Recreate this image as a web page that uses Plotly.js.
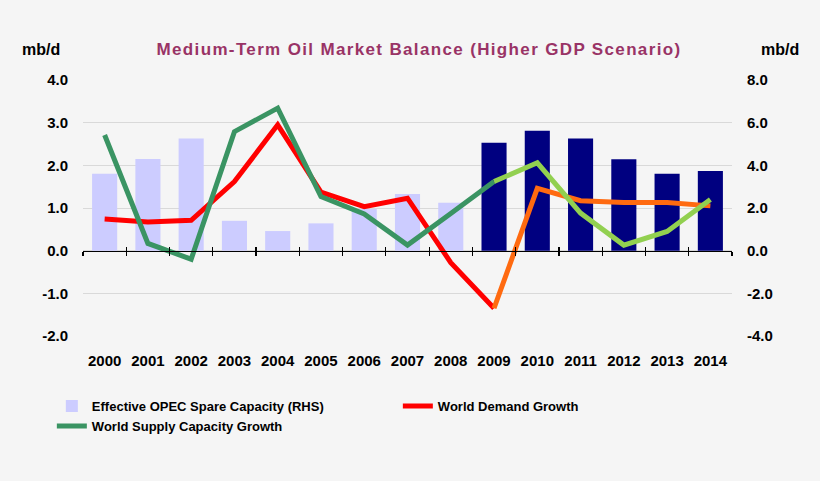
<!DOCTYPE html>
<html>
<head>
<meta charset="utf-8">
<script src="https://cdn.plot.ly/plotly-3.0.1.min.js"></script>
<style>
html,body{margin:0;padding:0;background:#f5f5f5;}
#chart{width:820px;height:481px;}
#chart .gtitle{letter-spacing:1.35px;}
</style>
</head>
<body>
<div id="chart"></div>
<script>
// ---- data ----
const years = ['2000','2001','2002','2003','2004','2005','2006','2007','2008','2009','2010','2011','2012','2013','2014'];
const spareCapacity = [3.6, 4.3, 5.26, 1.4, 0.92, 1.28, 1.95, 2.66, 2.25, 5.06, 5.62, 5.26, 4.28, 3.6, 3.73];
const demandGrowth = [0.74, 0.67, 0.71, 1.62, 2.95, 1.37, 1.03, 1.23, -0.28, -1.35, 1.46, 1.17, 1.13, 1.13, 1.05];
const supplyGrowth = [2.71, 0.17, -0.20, 2.79, 3.34, 1.27, 0.86, 0.13, 0.87, 1.62, 2.06, 0.88, 0.13, 0.45, 1.20];
const forecastStart = 9; // index of 2009
const leftTicks = [-2, -1, 0, 1, 2, 3, 4];
const leftTickLabels = ['-2.0', '-1.0', '0.0', '1.0', '2.0', '3.0', '4.0'];
const rightTicks = [-4, -2, 0, 2, 4, 6, 8];
const rightTickLabels = ['-4.0', '-2.0', '0.0', '2.0', '4.0', '6.0', '8.0'];

const barColors = years.map((y, i) => i < forecastStart ? '#ccccff' : '#000080');
const fontFam = '"Liberation Sans", Arial, sans-serif';

const traces = [
  {type:'bar', name:'Effective OPEC Spare Capacity (RHS)', x:years, y:spareCapacity, yaxis:'y',
   marker:{color:barColors}, width:0.58},
  {type:'scatter', mode:'lines', name:'World Demand Growth', yaxis:'y2',
   x:years.slice(0, forecastStart+1), y:demandGrowth.slice(0, forecastStart+1),
   line:{color:'#ff0000', width:5}},
  {type:'scatter', mode:'lines', name:'World Supply Capacity Growth', yaxis:'y2',
   x:years.slice(0, forecastStart+1), y:supplyGrowth.slice(0, forecastStart+1),
   line:{color:'#3a9463', width:5}},
  {type:'scatter', mode:'lines', showlegend:false, name:'World Demand Growth', yaxis:'y2',
   x:years.slice(forecastStart), y:demandGrowth.slice(forecastStart),
   line:{color:'#ff6a10', width:5}},
  {type:'scatter', mode:'lines', showlegend:false, name:'World Supply Capacity Growth', yaxis:'y2',
   x:years.slice(forecastStart), y:supplyGrowth.slice(forecastStart),
   line:{color:'#92d050', width:5}},
  // empty helpers so the zero-line tick axes are drawn
  {type:'scatter', x:[], y:[], xaxis:'x2', yaxis:'y2', showlegend:false, hoverinfo:'skip'},
  {type:'scatter', x:[], y:[], xaxis:'x3', yaxis:'y2', showlegend:false, hoverinfo:'skip'}
];

const tickFont = {family:fontFam, size:15, color:'#000000', weight:'bold'};

const layout = {
  width:820, height:481,
  paper_bgcolor:'#f5f5f5', plot_bgcolor:'#f5f5f5',
  margin:{l:83, r:88, t:80, b:145},
  showlegend:true,
  title:{text:'Medium-Term Oil Market Balance (Higher GDP Scenario)',
         font:{family:fontFam, size:17, color:'#993366', weight:'bold'},
         x:0.511, xanchor:'center', y:0.897, yanchor:'middle'},
  xaxis:{type:'category', categoryorder:'array', categoryarray:years,
         range:[-0.5, 14.5], showgrid:false, zeroline:false, showline:false,
         ticks:'', tickfont:tickFont, ticklabelstandoff:14},
  xaxis2:{overlaying:'x', anchor:'free', position:1/3, range:[-0.5, 14.5],
          tick0:-0.5, dtick:1, ticks:'outside', ticklen:4, tickwidth:1.2, tickcolor:'#000',
          showline:true, linecolor:'#000', linewidth:1.5,
          showticklabels:false, showgrid:false, zeroline:false},
  xaxis3:{overlaying:'x', anchor:'free', position:1/3, range:[-0.5, 14.5],
          tick0:-0.5, dtick:1, ticks:'inside', ticklen:4, tickwidth:1.2, tickcolor:'#000',
          showline:false, showticklabels:false, showgrid:false, zeroline:false},
  yaxis:{range:[-4, 8], tickvals:rightTicks, ticktext:rightTickLabels, side:'right', showgrid:true,
         gridcolor:'#d9d9d9', gridwidth:1, zeroline:false, showline:false,
         tickfont:tickFont, ticklabelstandoff:14},
  yaxis2:{range:[-2, 4], tickvals:leftTicks, ticktext:leftTickLabels, overlaying:'y', side:'left',
          showgrid:false, zeroline:false, showline:false, tickfont:tickFont, ticklabelstandoff:14},
  legend:{orientation:'h', x:-0.048, xanchor:'left', y:-0.215, yanchor:'top',
          entrywidth:301, entrywidthmode:'pixels', traceorder:'normal',
          font:{family:fontFam, size:13, color:'#000', weight:'bold'},
          bgcolor:'rgba(0,0,0,0)', itemwidth:30},
  annotations:[
    {text:'mb/d', xref:'paper', yref:'paper', x:-0.064, y:1.12, xanchor:'center', yanchor:'middle',
     showarrow:false, font:{family:fontFam, size:16, color:'#000', weight:'bold'}},
    {text:'mb/d', xref:'paper', yref:'paper', x:1.074, y:1.12, xanchor:'center', yanchor:'middle',
     showarrow:false, font:{family:fontFam, size:16, color:'#000', weight:'bold'}}
  ]
};

Plotly.newPlot('chart', traces, layout, {displayModeBar:false, staticPlot:true});
</script>
</body>
</html>
